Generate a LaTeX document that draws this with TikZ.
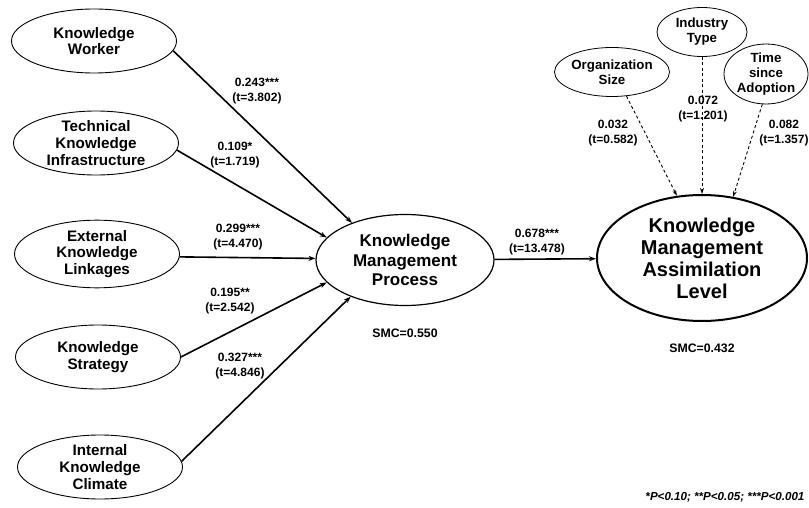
\documentclass[tikz,border=0pt]{standalone}
\usepackage{fontspec}
\setmainfont{Liberation Sans}
\usetikzlibrary{shapes.geometric,arrows.meta,positioning}
\tikzset{
  latent/.style={draw,ellipse,line width=#1,inner sep=0pt,align=center},
  srcvar/.style={latent=0.9pt,minimum width=165pt,minimum height=64pt,font=\bfseries\fontsize{15.2}{16.8}\selectfont},
  ctrlvar/.style={latent=0.8pt,minimum width=90pt,minimum height=49pt,font=\bfseries\fontsize{13.3}{15}\selectfont},
  coef/.style={align=center,inner sep=0pt,font=\bfseries\fontsize{12}{14.5}\selectfont},
}
\begin{document}
\begin{tikzpicture}[
    x=1pt,y=-1pt,
    arr/.style={-{Stealth[length=7pt,width=5pt]},line width=1.6pt},
    ctl/.style={-{Stealth[length=6pt,width=4pt]},line width=0.9pt,dash pattern=on 3pt off 2.5pt},
  ]
  \useasboundingbox (0,0) rectangle (809,508);

  % antecedents
  \node[srcvar] (kw) at (94,41) {Knowledge\\Worker};
  \node[srcvar] (tki) at (96,143) {Technical\\Knowledge\\Infrastructure};
  \node[srcvar] (ekl) at (97,254) {External\\Knowledge\\Linkages};
  \node[srcvar] (ks) at (98,357) {Knowledge\\Strategy};
  \node[srcvar] (ikc) at (100,467) {Internal\\Knowledge\\Climate};

  % mediator and outcome
  \node[latent=1.2pt,minimum width=178pt,minimum height=91pt,font=\bfseries\fontsize{17}{19.5}\selectfont] (kmp) at (405,260) {Knowledge\\Management\\Process};
  \node[latent=2pt,minimum width=210pt,minimum height=126pt,font=\bfseries\fontsize{20}{22}\selectfont] (kmal) at (702,258) {Knowledge\\Management\\Assimilation\\Level};
  \node[font=\bfseries\fontsize{12.3}{14}\selectfont,below=19pt of kmp] (smc1) {SMC=0.550};
  \node[font=\bfseries\fontsize{12.3}{14}\selectfont,below=18pt of kmal] (smc2) {SMC=0.432};

  % controls
  \node[ctrlvar] (osz) at (612,72) {Organization\\Size};
  \node[ctrlvar] (ity) at (702,32) {Industry\\Type};
  \node[ctrlvar,minimum width=84pt] (tsa) at (766,74) {Time\\since\\Adoption};

  % paths
  \draw[arr] (kw.-7) -- (kmp.145);
  \draw[arr] (tki.-5) -- (kmp.164);
  \draw[arr] (ekl.-2) -- (kmp.179);
  \draw[arr] (ks.0) -- (kmp.196);
  \draw[arr] (ikc.4) -- (kmp.214);
  \draw[arr] (kmp) -- (kmal);

  \draw[ctl] (osz.-59) -- (kmal.112);
  \draw[ctl] (ity) -- (kmal.90);
  \draw[ctl] (tsa.-97) -- (kmal.63);

  % coefficients
  \node[coef] (c1) at (257,91) {0.243***\\(t=3.802)};
  \node[coef] (c2) at (235,155) {0.109*\\(t=1.719)};
  \node[coef] (c3) at (238,237) {0.299***\\(t=4.470)};
  \node[coef] (c4) at (230,301) {0.195**\\(t=2.542)};
  \node[coef] (c5) at (240,366) {0.327***\\(t=4.846)};
  \node[coef] (c6) at (537,242) {0.678***\\(t=13.478)};
  \node[coef] (c7) at (613,133) {0.032\\(t=0.582)};
  \node[coef] (c8) at (703,109) {0.072\\(t=1.201)};
  \node[coef] (c9) at (784,133) {0.082\\(t=1.357)};

  \node[font=\bfseries\itshape\fontsize{11.6}{13}\selectfont,anchor=east] (note) at (808,497) {*P<0.10; **P<0.05; ***P<0.001};
\end{tikzpicture}
\end{document}
